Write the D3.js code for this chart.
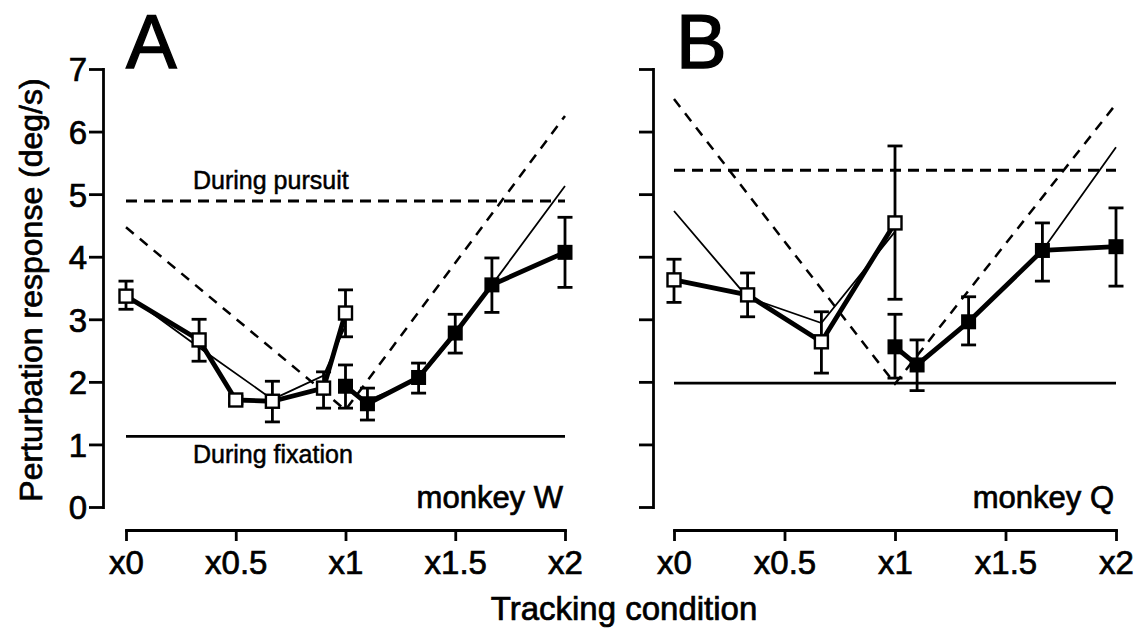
<!DOCTYPE html>
<html>
<head>
<meta charset="utf-8">
<script src="https://cdn.jsdelivr.net/npm/d3@7"></script>
<style>
  html, body { margin: 0; padding: 0; background: #fff; }
  svg { display: block; }
  text { font-family: "Liberation Sans", Arial, Helvetica, sans-serif; fill: #000; stroke: #000; stroke-width: 0.7px; }
</style>
</head>
<body>
<svg id="chart" width="1139" height="632"></svg>
<script>
// ---------- data ----------
const xTickValues = [0, 0.5, 1, 1.5, 2];
const xTickLabels = ["x0", "x0.5", "x1", "x1.5", "x2"];
const yTickValues = [0, 1, 2, 3, 4, 5, 6, 7];

// Panel A (monkey W)
const aOpenX  = [0, 0.333, 0.5, 0.667, 0.9, 1.0];
const aOpenY  = [3.37, 2.67, 1.71, 1.69, 1.90, 3.10];
const aOpenLo = [3.16, 2.33, 1.65, 1.36, 1.58, 2.72];
const aOpenHi = [3.61, 3.00, 1.77, 2.01, 2.16, 3.47];
const aFillX  = [1.0, 1.1, 1.333, 1.5, 1.667, 2.0];
const aFillY  = [1.93, 1.65, 2.07, 2.78, 3.55, 4.07];
const aFillLo = [1.58, 1.39, 1.82, 2.46, 3.11, 3.51];
const aFillHi = [2.27, 1.90, 2.30, 3.08, 3.98, 4.63];
const aThinLeftX  = [0, 0.333, 0.667, 0.9, 1.0];
const aThinLeftY  = [3.40, 2.55, 1.72, 2.10, 2.90];
const aThinRightX = [1.1, 1.333, 1.5, 1.667, 2.0];
const aThinRightY = [1.70, 2.05, 2.75, 3.55, 5.13];
const aPursuit = 4.89;
const aFixation = 1.13;
const aVX = [0, 1.0, 2.0];
const aVY = [4.47, 1.55, 6.25];

// Panel B (monkey Q)
const bOpenX  = [0, 0.333, 0.667, 1.0];
const bOpenY  = [3.63, 3.39, 2.64, 4.54];
const bOpenLo = [3.27, 3.04, 2.14, 3.32];
const bOpenHi = [3.96, 3.74, 3.12, 5.77];
const bFillX  = [1.0, 1.1, 1.333, 1.667, 2.0];
const bFillY  = [2.56, 2.27, 2.96, 4.10, 4.16];
const bFillLo = [2.06, 1.86, 2.59, 3.61, 3.53];
const bFillHi = [3.08, 2.67, 3.36, 4.54, 4.78];
const bThinLeftX  = [0, 0.333, 0.667, 1.0];
const bThinLeftY  = [4.73, 3.35, 2.94, 4.40];
const bThinRightX = [1.1, 1.333, 1.667, 2.0];
const bThinRightY = [2.30, 2.95, 4.10, 5.75];
const bPursuit = 5.38;
const bFixation = 1.98;
const bVX = [0, 1.0, 2.0];
const bVY = [6.52, 1.97, 6.44];

// ---------- drawing ----------
const svg = d3.select("#chart");
const y = d3.scaleLinear().domain([0, 7]).range([507, 69]);
const xAxisY = 530;

function zip(xs, ys) { return xs.map((v, i) => [v, ys[i]]); }

function panel(cfg) {
  const x = d3.scaleLinear().domain([0, 2]).range(cfg.xRange);
  const g = svg.append("g");
  const line = d3.line().x(d => x(d[0])).y(d => y(d[1]));

  // y axis
  const yAxis = d3.axisLeft(y).tickValues(yTickValues).tickSize(14).tickSizeOuter(0)
    .tickFormat(cfg.yLabels ? d3.format("d") : () => "");
  const ya = g.append("g").attr("transform", `translate(${cfg.yAxisX},0)`).call(yAxis);
  ya.selectAll("path, line").attr("stroke", "#000").attr("stroke-width", 2.8);
  ya.selectAll("text").attr("x", -16).attr("dy", "0.36em")
    .style("font-size", "33px").style("font-family", "'Liberation Sans', Arial, sans-serif");

  // x axis
  const xAxis = d3.axisBottom(x).tickValues(xTickValues).tickSize(11).tickSizeOuter(0)
    .tickFormat((d, i) => xTickLabels[i]);
  const xa = g.append("g").attr("transform", `translate(0,${xAxisY})`).call(xAxis);
  xa.selectAll("path, line").attr("stroke", "#000").attr("stroke-width", 2.8);
  xa.selectAll("text").attr("y", 44).attr("dy", 0)
    .style("font-size", "33px").style("font-family", "'Liberation Sans', Arial, sans-serif");
  g.selectAll(".domain").attr("stroke-linecap", "square");

  // reference lines
  g.append("path").attr("d", line([[0, cfg.pursuit], [2, cfg.pursuit]]))
    .attr("fill", "none").attr("stroke", "#000").attr("stroke-width", 3).attr("stroke-dasharray", "11,7");
  g.append("path").attr("d", line([[0, cfg.fixation], [2, cfg.fixation]]))
    .attr("fill", "none").attr("stroke", "#000").attr("stroke-width", 2.8);
  g.append("path").attr("d", line(zip(cfg.vX, cfg.vY)))
    .attr("fill", "none").attr("stroke", "#000").attr("stroke-width", 2.5).attr("stroke-dasharray", "10,8");

  // thin model lines
  [zip(cfg.thinLX, cfg.thinLY), zip(cfg.thinRX, cfg.thinRY)].forEach(pts => {
    g.append("path").attr("d", line(pts)).attr("fill", "none")
      .attr("stroke", "#000").attr("stroke-width", 1.8);
  });

  // thick data lines
  [zip(cfg.openX, cfg.openY), zip(cfg.fillX, cfg.fillY)].forEach(pts => {
    g.append("path").attr("d", line(pts)).attr("fill", "none")
      .attr("stroke", "#000").attr("stroke-width", 4.8).attr("stroke-linejoin", "round");
  });

  // error bars
  function errbars(xs, lo, hi) {
    xs.forEach((xv, i) => {
      const cx = x(xv), y1 = y(lo[i]), y2 = y(hi[i]);
      g.append("line").attr("x1", cx).attr("x2", cx).attr("y1", y1).attr("y2", y2)
        .attr("stroke", "#000").attr("stroke-width", 2.8);
      [y1, y2].forEach(yy => g.append("line").attr("x1", cx - 7.5).attr("x2", cx + 7.5)
        .attr("y1", yy).attr("y2", yy).attr("stroke", "#000").attr("stroke-width", 2.8));
    });
  }
  errbars(cfg.openX, cfg.openLo, cfg.openHi);
  errbars(cfg.fillX, cfg.fillLo, cfg.fillHi);

  // squares
  const s = 13;
  g.selectAll(null).data(zip(cfg.openX, cfg.openY)).join("rect")
    .attr("x", d => x(d[0]) - s / 2).attr("y", d => y(d[1]) - s / 2)
    .attr("width", s).attr("height", s).attr("fill", "#fff").attr("stroke", "#000").attr("stroke-width", 2.4);
  g.selectAll(null).data(zip(cfg.fillX, cfg.fillY)).join("rect")
    .attr("x", d => x(d[0]) - (s + 2) / 2).attr("y", d => y(d[1]) - (s + 2) / 2)
    .attr("width", s + 2).attr("height", s + 2).attr("fill", "#000");

  // texts
  g.append("text").attr("x", cfg.letterX).attr("y", 68).text(cfg.letter)
    .style("font-size", "76px").style("stroke-width", "1.4px");
  g.append("text").attr("x", x(2) - 2).attr("y", 508).attr("text-anchor", "end")
    .text(cfg.monkey).style("font-size", "31px");
  if (cfg.labels) {
    g.append("text").attr("x", 193).attr("y", 189).text("During pursuit").style("font-size", "25px").style("stroke-width", "0.5px");
    g.append("text").attr("x", 193).attr("y", 463).text("During fixation").style("font-size", "25px").style("stroke-width", "0.5px");
  }
}

panel({
  xRange: [126, 565], yAxisX: 103, yLabels: true, letter: "A", letterX: 126, monkey: "monkey W", labels: true,
  openX: aOpenX, openY: aOpenY, openLo: aOpenLo, openHi: aOpenHi,
  fillX: aFillX, fillY: aFillY, fillLo: aFillLo, fillHi: aFillHi,
  thinLX: aThinLeftX, thinLY: aThinLeftY, thinRX: aThinRightX, thinRY: aThinRightY,
  pursuit: aPursuit, fixation: aFixation, vX: aVX, vY: aVY
});
panel({
  xRange: [674, 1116], yAxisX: 653, yLabels: false, letter: "B", letterX: 676, monkey: "monkey Q", labels: false,
  openX: bOpenX, openY: bOpenY, openLo: bOpenLo, openHi: bOpenHi,
  fillX: bFillX, fillY: bFillY, fillLo: bFillLo, fillHi: bFillHi,
  thinLX: bThinLeftX, thinLY: bThinLeftY, thinRX: bThinRightX, thinRY: bThinRightY,
  pursuit: bPursuit, fixation: bFixation, vX: bVX, vY: bVY
});

// axis titles
svg.append("text").attr("transform", "translate(42,290) rotate(-90)").attr("text-anchor", "middle")
  .text("Perturbation response (deg/s)").style("font-size", "32px");
svg.append("text").attr("x", 624).attr("y", 620).attr("text-anchor", "middle")
  .text("Tracking condition").style("font-size", "33px");
</script>
</body>
</html>
